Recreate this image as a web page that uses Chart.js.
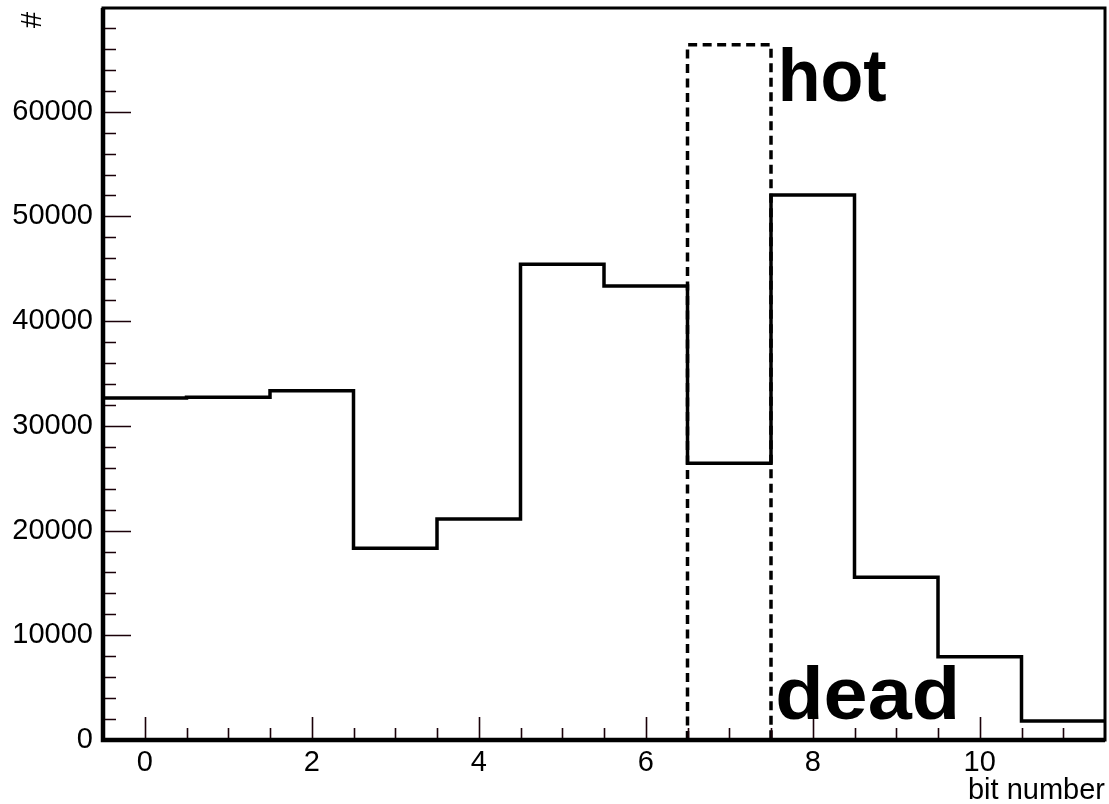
<!DOCTYPE html>
<html>
<head>
<meta charset="utf-8">
<script src="https://cdn.jsdelivr.net/npm/chart.js@4.4.1/dist/chart.umd.min.js"></script>
<style>
  html, body { margin: 0; padding: 0; background: #fff; }
  #wrap { width: 1109px; height: 804px; }
</style>
</head>
<body>
<div id="wrap"><canvas id="hist" width="1109" height="804"></canvas></div>
<script>
// bit occupancy histogram
const bits = [0, 1, 2, 3, 4, 5, 6, 7, 8, 9, 10, 11];
const counts = [32650, 32720, 33360, 18310, 21110, 45430, 43360, 26420, 52050, 15540, 7960, 1815];
const xTickLabels = [0, 2, 4, 6, 8, 10];
const yTickLabels = [0, 10000, 20000, 30000, 40000, 50000, 60000];
const markedBit = 7;
const markedTop = 66400;

const FONT = "'Liberation Sans', Helvetica, Arial, sans-serif";

// bin edges -> step points (value held from left edge)
const histPoints = bits.map((b, i) => ({ x: b - 0.5, y: counts[i] }));
histPoints.push({ x: bits[bits.length - 1] + 0.5, y: counts[counts.length - 1] });

const boxPoints = [
  { x: markedBit - 0.5, y: 0 },
  { x: markedBit - 0.5, y: markedTop },
  { x: markedBit + 0.5, y: markedTop },
  { x: markedBit + 0.5, y: 0 },
  { x: markedBit - 0.5, y: 0 },
];

const rootFrame = {
  id: "rootFrame",
  afterDatasetsDraw(chart) {
    const { ctx, chartArea: a, scales: { x, y } } = chart;
    ctx.save();

    // inward tick marks
    ctx.strokeStyle = "#1a0008";
    ctx.lineWidth = 1.6;
    ctx.beginPath();
    for (let v = 0; v <= y.max; v += 2000) {
      const py = Math.round(y.getPixelForValue(v)) + 0.5;
      const len = v % 10000 === 0 ? 28 : 13;
      ctx.moveTo(a.left, py);
      ctx.lineTo(a.left + len, py);
    }
    for (let v = 0; v <= x.max - 0.5; v += 0.5) {
      const px = Math.round(x.getPixelForValue(v)) + 0.5;
      const len = xTickLabels.includes(v) ? 23 : 12;
      ctx.moveTo(px, a.bottom);
      ctx.lineTo(px, a.bottom - len);
    }
    ctx.stroke();

    // frame
    ctx.strokeStyle = "#000";
    ctx.lineWidth = 3;
    ctx.strokeRect(a.left, a.top, a.right - a.left, a.bottom - a.top);
    ctx.lineWidth = 4.5;
    ctx.beginPath();
    ctx.moveTo(a.left, a.top);
    ctx.lineTo(a.left, a.bottom);
    ctx.lineTo(a.right, a.bottom);
    ctx.stroke();

    // labels beside the marked bin
    ctx.fillStyle = "#000";
    ctx.font = "bold 74px " + FONT;
    ctx.textBaseline = "alphabetic";
    ctx.textAlign = "left";
    const drawWide = (text, vx, vy, w) => {
      const px = x.getPixelForValue(vx);
      const py = y.getPixelForValue(vy);
      const k = w / ctx.measureText(text).width;
      ctx.save();
      ctx.translate(px, py);
      ctx.scale(k, 1);
      ctx.fillText(text, 0, 0);
      ctx.restore();
    };
    drawWide("hot", 7.58, 61000, 109);
    drawWide("dead", 7.55, 2000, 185);

    // axis titles
    ctx.font = "29px " + FONT;
    ctx.textAlign = "right";
    ctx.textBaseline = "bottom";
    ctx.fillText("bit number", a.right, 805);

    ctx.save();
    ctx.translate(33, 20);
    ctx.rotate(-Math.PI / 2);
    ctx.textAlign = "center";
    ctx.textBaseline = "middle";
    ctx.fillText("#", 0, 0);
    ctx.restore();

    ctx.restore();
  },
};

const noPad = (s) => {
  s.paddingTop = 0;
  s.paddingBottom = 0;
  s.paddingLeft = 0;
  s.paddingRight = 0;
};

new Chart(document.getElementById("hist"), {
  type: "line",
  data: {
    datasets: [
      {
        data: histPoints,
        stepped: "before",
        borderColor: "#000",
        borderWidth: 3.5,
        pointRadius: 0,
        fill: false,
        clip: false,
      },
      {
        data: boxPoints,
        borderColor: "#000",
        borderWidth: 3.5,
        borderDash: [9, 5.5],
        pointRadius: 0,
        fill: false,
        tension: 0,
        clip: false,
      },
    ],
  },
  options: {
    responsive: false,
    animation: false,
    devicePixelRatio: 1,
    layout: { padding: { top: 8, right: 4, left: 0, bottom: 0 } },
    plugins: { legend: { display: false }, tooltip: { enabled: false } },
    scales: {
      x: {
        type: "linear",
        min: -0.5,
        max: 11.5,
        grid: { display: false, drawTicks: false },
        border: { display: false },
        afterBuildTicks: (s) => { s.ticks = xTickLabels.map((v) => ({ value: v })); },
        afterFit: (s) => { s.height = 64; noPad(s); },
        ticks: {
          color: "#000",
          padding: 6,
          maxRotation: 0,
          autoSkip: false,
          font: { family: FONT, size: 29 },
          callback: (v) => String(v),
        },
      },
      y: {
        min: 0,
        max: 69900,
        grid: { display: false, drawTicks: false },
        border: { display: false },
        afterBuildTicks: (s) => { s.ticks = yTickLabels.map((v) => ({ value: v })); },
        afterFit: (s) => { s.width = 103; noPad(s); },
        ticks: {
          color: "#000",
          padding: 10,
          autoSkip: false,
          font: { family: FONT, size: 29 },
          callback: (v) => String(v),
        },
      },
    },
  },
  plugins: [rootFrame],
});
</script>
</body>
</html>
